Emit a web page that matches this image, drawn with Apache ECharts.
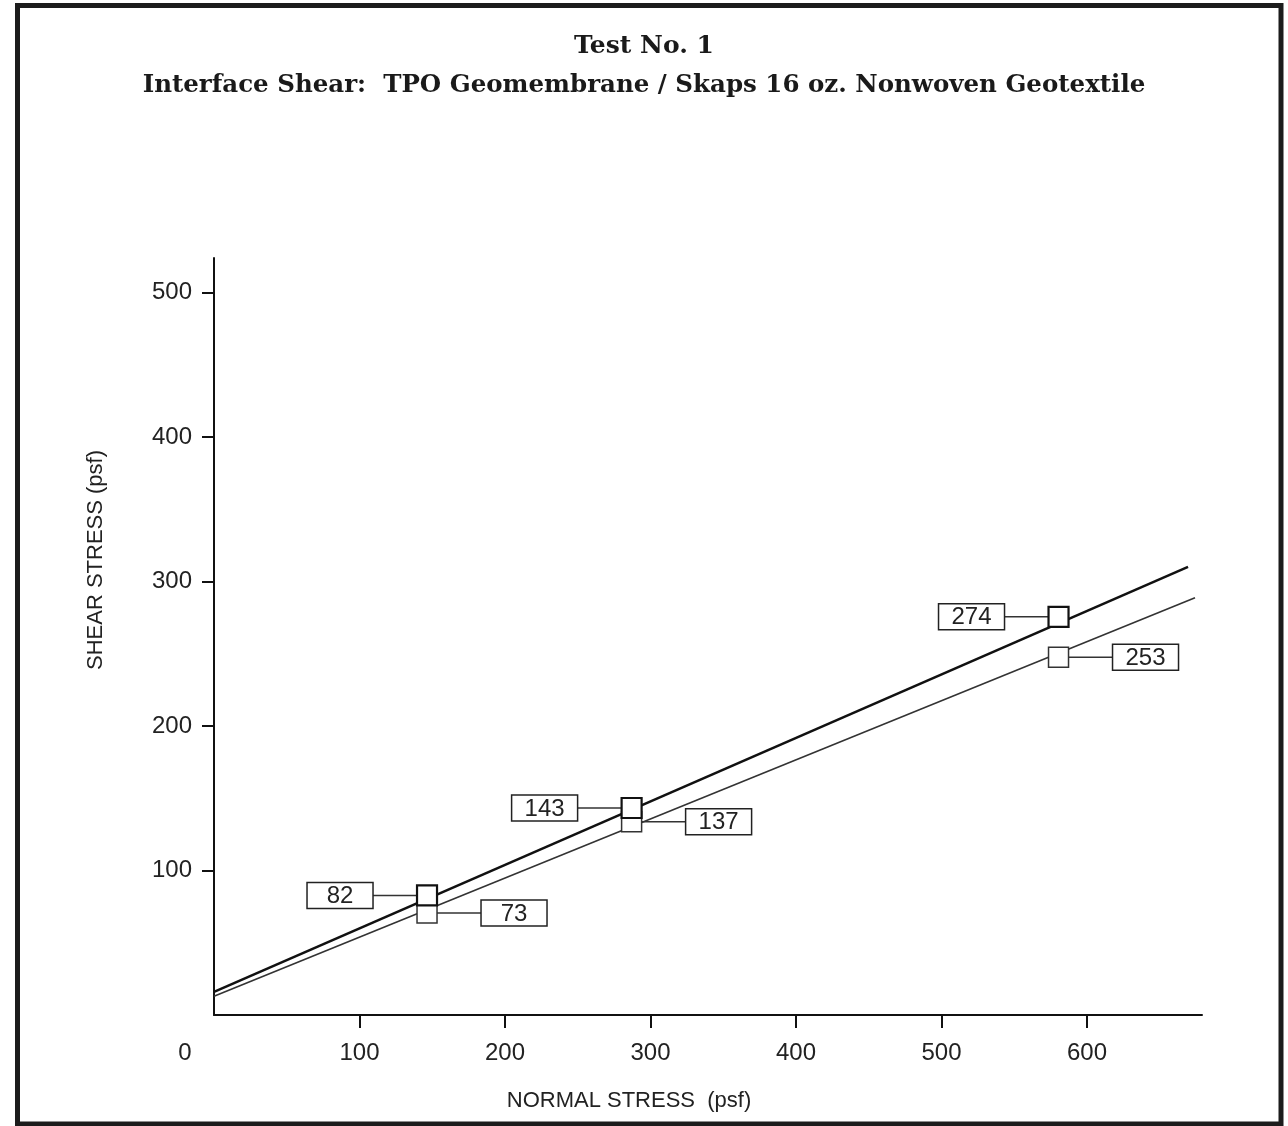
<!DOCTYPE html>
<html>
<head>
<meta charset="utf-8">
<script src="https://cdn.jsdelivr.net/npm/echarts@6/dist/echarts.min.js"></script>
<style>
html,body{margin:0;padding:0;background:#fff;}
#chart{width:1288px;height:1126px;}
</style>
</head>
<body>
<div id="chart"></div>
<script>
// ---- data ----
const titleText = 'Test No. 1';
const subtitleText = 'Interface Shear:  TPO Geomembrane / Skaps 16 oz. Nonwoven Geotextile';
const xName = 'NORMAL STRESS  (psf)';
const yName = 'SHEAR STRESS (psf)';

const normalStress = [146.4, 287, 580.4];
const peakShear = [82.8, 143.3, 275.6];
const peakLabels = ['82', '143', '274'];
const lowerShear = [70.6, 133.7, 247.6];
const lowerLabels = ['73', '137', '253'];

const peakLineX = [0, 669.4];
const peakLineY = [16, 310.2];
const lowerLineX = [0, 674.2];
const lowerLineY = [13, 288.8];

const xTickValues = [100, 200, 300, 400, 500, 600];
const xLabelValues = [0, 100, 200, 300, 400, 500, 600];
const yTickValues = [100, 200, 300, 400, 500];
const xMax = 679;
const yMax = 524;

// ---- build ----
const chart = echarts.init(document.getElementById('chart'));
const sans = "'Liberation Sans', Arial, Helvetica, sans-serif";
const serif = "'DejaVu Serif', 'Liberation Serif', serif";
const ink = '#111';

function pairs(xs, ys) { return xs.map((x, i) => [x, ys[i]]); }

function calloutSeries(ys, labels, side) {
  return {
    type: 'custom',
    z: 3,
    silent: true,
    clip: false,
    data: pairs(normalStress, ys),
    renderItem: function (params, api) {
      const p = api.coord([api.value(0), api.value(1)]);
      const half = 10, gap = 54, w = 66, h = 26;
      const x0 = p[0] + side * half;
      const x1 = p[0] + side * gap;
      const rx = side < 0 ? x1 - w : x1;
      return {
        type: 'group',
        children: [
          { type: 'line', shape: { x1: x0, y1: p[1], x2: x1, y2: p[1] },
            style: { stroke: '#333', lineWidth: 1.5 } },
          { type: 'rect', shape: { x: rx, y: p[1] - h / 2, width: w, height: h },
            style: { fill: '#fff', stroke: '#222', lineWidth: 1.5 } },
          { type: 'text', x: rx + w / 2, y: p[1] + 1,
            style: { text: labels[params.dataIndex], fill: '#222', font: '24px ' + sans,
                     align: 'center', verticalAlign: 'middle' } }
        ]
      };
    }
  };
}

const option = {
  backgroundColor: '#fff',
  animation: false,
  title: [
    { text: titleText, left: 'center', top: 29,
      textStyle: { fontFamily: serif, fontWeight: 'bold', fontSize: 25, color: '#1a1a1a' } },
    { text: subtitleText, left: 'center', top: 68,
      textStyle: { fontFamily: serif, fontWeight: 'bold', fontSize: 24.5, color: '#1a1a1a' } }
  ],
  grid: { left: 214, right: 86, top: 258, bottom: 111 },
  xAxis: {
    type: 'value', min: 0, max: xMax,
    axisLine: { show: true, lineStyle: { color: ink, width: 2 } },
    axisTick: { show: true, customValues: xTickValues, length: 13, lineStyle: { color: ink, width: 2 } },
    axisLabel: {
      customValues: xLabelValues, margin: 26, fontSize: 24, color: '#222', fontFamily: sans,
      formatter: v => v === 0 ? '{z|0}' : String(v),
      rich: { z: { fontSize: 24, color: '#222', fontFamily: sans, padding: [0, 58, 0, 0] } }
    },
    splitLine: { show: false }
  },
  yAxis: {
    type: 'value', min: 0, max: yMax,
    axisLine: { show: true, lineStyle: { color: ink, width: 2 } },
    axisTick: { show: true, customValues: yTickValues, length: 12, lineStyle: { color: ink, width: 2 } },
    axisLabel: { customValues: yTickValues, margin: 22, fontSize: 24, color: '#222', fontFamily: sans },
    splitLine: { show: false }
  },
  graphic: [
    { type: 'rect', shape: { x: 17.5, y: 5.5, width: 1263.5, height: 1118.5 },
      style: { fill: 'none', stroke: '#1c1c1c', lineWidth: 5 }, z: 100 },
    { type: 'text', x: 96, y: 560, rotation: Math.PI / 2,
      style: { text: yName, font: '22px ' + sans, fill: '#222', align: 'center', verticalAlign: 'middle' } },
    { type: 'text', x: 629, y: 1101,
      style: { text: xName, font: '22px ' + sans, fill: '#222', align: 'center', verticalAlign: 'middle' } }
  ],
  series: [
    { type: 'line', data: pairs(lowerLineX, lowerLineY), showSymbol: false, z: 1,
      lineStyle: { color: '#333', width: 1.6 } },
    { type: 'line', data: pairs(peakLineX, peakLineY), showSymbol: false, z: 1,
      lineStyle: { color: '#111', width: 2.6 } },
    calloutSeries(lowerShear, lowerLabels, 1),
    calloutSeries(peakShear, peakLabels, -1),
    { type: 'scatter', data: pairs(normalStress, lowerShear), symbol: 'rect', symbolSize: 20, z: 4,
      itemStyle: { color: '#fff', borderColor: '#333', borderWidth: 1.5, opacity: 1 } },
    { type: 'scatter', data: pairs(normalStress, peakShear), symbol: 'rect', symbolSize: 20, z: 5,
      itemStyle: { color: '#fff', borderColor: '#111', borderWidth: 2.2, opacity: 1 } }
  ]
};
chart.setOption(option);
</script>
</body>
</html>
